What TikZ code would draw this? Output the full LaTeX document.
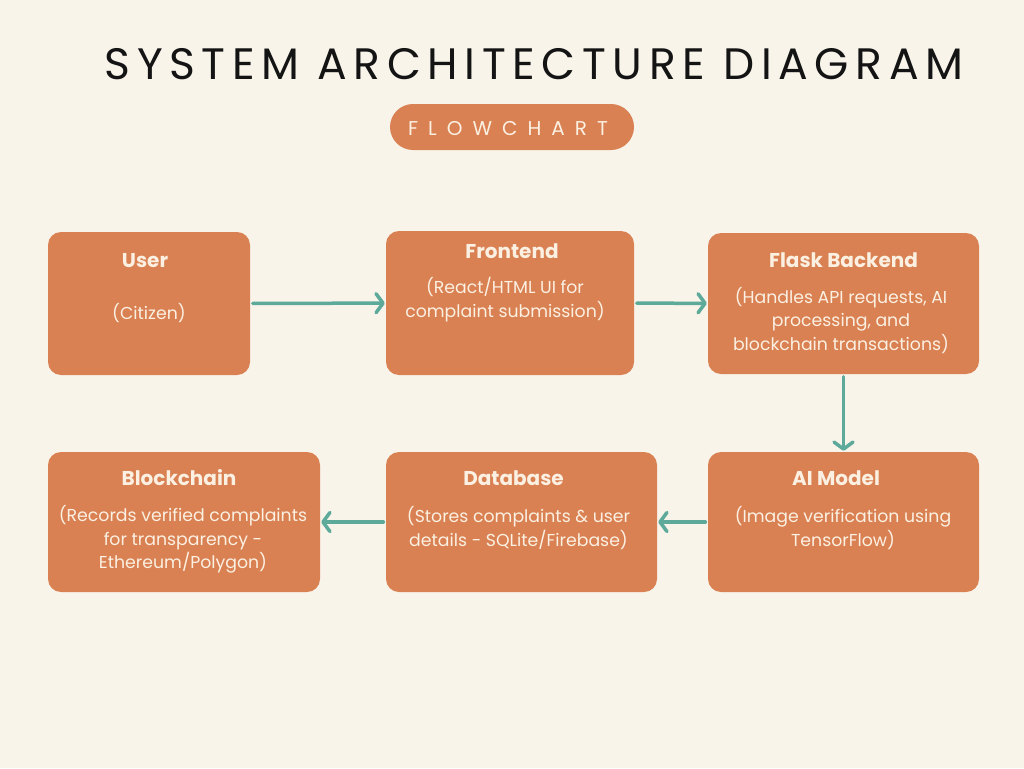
\documentclass[tikz,border=0pt]{standalone}
\usepackage{fontspec}
\setmainfont{Poppins}
\newfontfamily\headfont[LetterSpace=15]{Poppins}
\newfontfamily\tagfont[LetterSpace=50]{Poppins}
\usetikzlibrary{arrows.meta}
\definecolor{paper}{HTML}{F8F4EA}
\definecolor{clay}{HTML}{D98152}
\definecolor{sea}{HTML}{5EAA9A}
\definecolor{cream}{HTML}{FBF0E2}
\definecolor{ink}{HTML}{141414}
\begin{document}
\begin{tikzpicture}[x=1pt,y=-1pt,
  stagebox/.style={fill=clay, draw=none, rounded corners=13pt, inner sep=0pt},
  boxtitle/.style={text=cream, font=\fontsize{20}{24}\selectfont\bfseries, inner sep=0pt},
  boxbody/.style={text=cream, font=\fontsize{17.3}{23.5}\selectfont, align=center, inner sep=0pt},
  flow/.style={draw=sea, line width=3.5pt, line cap=round,
    -{Straight Barb[length=7pt, width=19pt, line width=3.5pt, round]},
    shorten <=2.5pt, shorten >=1pt}]
% page
\useasboundingbox (0,0) rectangle (1024,768);
\fill[paper] (0,0) rectangle (1024,768);

% heading and tag
\node[text=ink, font=\headfont\fontsize{44}{50}\selectfont, inner sep=0pt] (heading) at (534,64) {SYSTEM ARCHITECTURE DIAGRAM};
\node[fill=clay, rounded corners=23pt, minimum width=244pt, minimum height=46pt, inner sep=0pt] (tag) at (512,127) {};
\node[text=cream, font=\tagfont\fontsize{20}{22}\selectfont, inner sep=0pt] (tagtext) at (508,128.5) {FLOWCHART};

% stage boxes
\node[stagebox, minimum width=202pt, minimum height=143pt] (user)  at (149,303.5) {};
\node[stagebox, minimum width=248pt, minimum height=144pt] (front) at (510,303) {};
\node[stagebox, minimum width=271pt, minimum height=141pt] (flask) at (843.5,303.5) {};
\node[stagebox, minimum width=271pt, minimum height=140pt] (ai)    at (843.5,522) {};
\node[stagebox, minimum width=271pt, minimum height=140pt] (db)    at (521.5,522) {};
\node[stagebox, minimum width=272pt, minimum height=140pt] (chain) at (184,522) {};

% box texts
\node[boxtitle] (usert)  at (145,261) {User};
\node[boxbody]  (userb)  at (149,313) {(Citizen)};
\node[boxtitle] (frontt) at (512,251) {Frontend};
\node[boxbody]  (frontb) at (505,299.5) {(React/HTML UI for\\complaint submission)};
\node[boxtitle] (flaskt) at (843.5,260) {Flask Backend};
\node[boxbody]  (flaskb) at (841,320.5) {(Handles API requests, AI\\processing, and\\blockchain transactions)};
\node[boxtitle] (ait)    at (836,478) {AI Model};
\node[boxbody]  (aib)    at (843,528) {(Image verification using\\TensorFlow)};
\node[boxtitle] (dbt)    at (513.5,478) {Database};
\node[boxbody]  (dbb)    at (518.5,528) {(Stores complaints \& user\\details - SQLite/Firebase)};
\node[boxtitle] (chaint) at (179,478) {Blockchain};
\node[boxbody]  (chainb) at (183,539.5) {(Records verified complaints\\for transparency -\\Ethereum/Polygon)};

% connectors
\draw[flow] (user) -- (front);
\draw[flow] (front) -- (flask);
\draw[flow] (flask) -- (ai);
\draw[flow] (ai) -- (db);
\draw[flow] (db) -- (chain);
\end{tikzpicture}
\end{document}
